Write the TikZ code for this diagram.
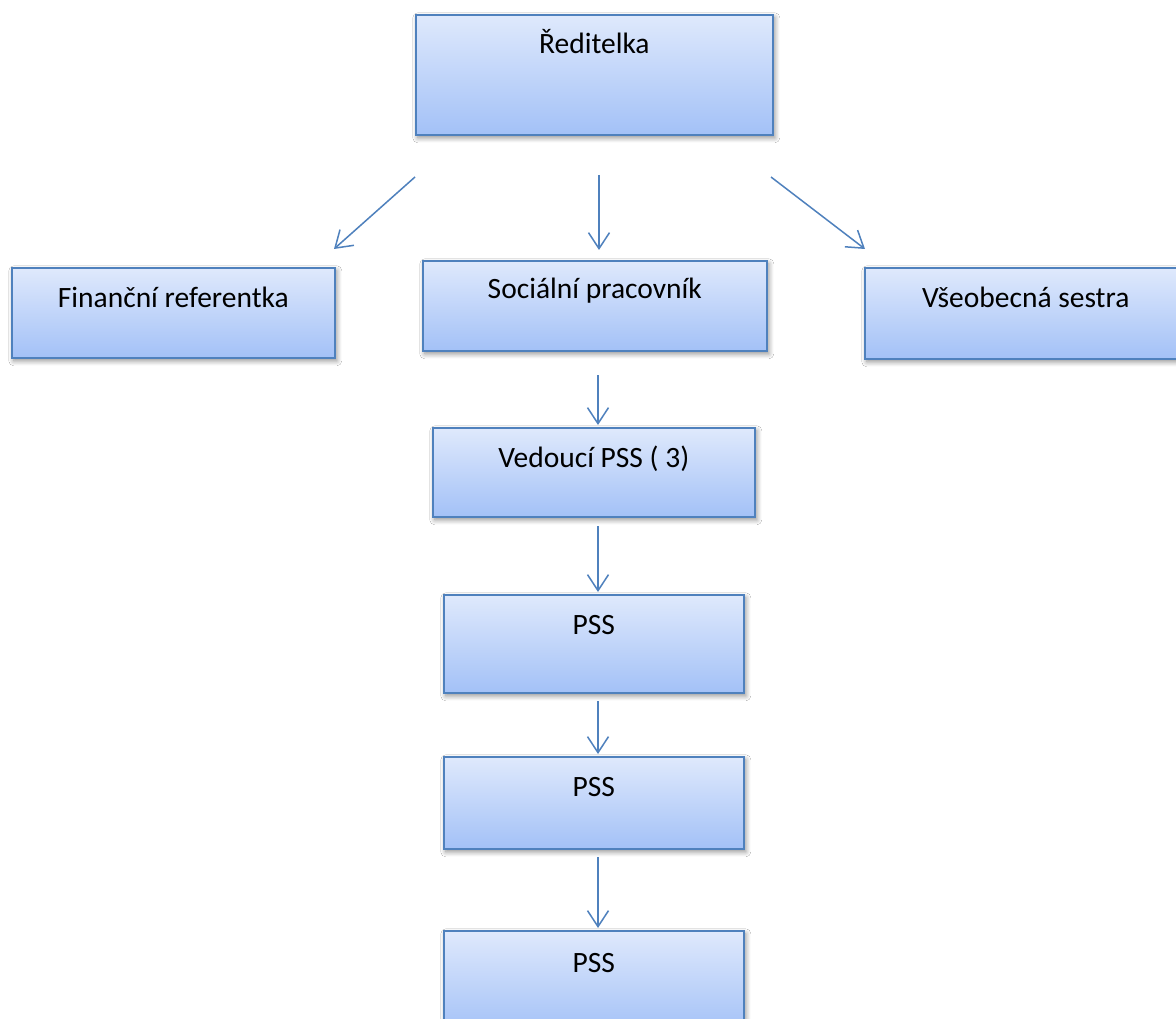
\documentclass[tikz,border=0pt]{standalone}
\usepackage{fontspec}
\setmainfont{Carlito}
\usetikzlibrary{arrows.meta,shadows.blur}
\definecolor{obord}{RGB}{79,129,189}
\definecolor{otop}{RGB}{223,233,252}
\definecolor{obot}{RGB}{163,193,247}
\tikzset{
  orgbox/.style={draw=obord, line width=1.6pt, top color=otop, bottom color=obot,
    anchor=north west, inner xsep=0pt, inner ysep=0pt, minimum height=0pt,
    font=\fontsize{29.5}{34}\selectfont, text=black,
    blur shadow={shadow xshift=2pt, shadow yshift=-3pt, shadow blur radius=5pt, shadow blur steps=8, shadow opacity=45}},
  orgarrow/.style={draw=obord, line width=1.5pt, -{Straight Barb[length=16pt,width=21pt,line width=1.5pt]}}
}
\begin{document}
\begin{tikzpicture}[x=1pt,y=-1pt]
\useasboundingbox (0,0) rectangle (1176,1019);
\clip (0,0) rectangle (1176,1019);
\fill[white] (0,0) rectangle (1176,1019);

\node[orgbox, minimum width=357pt, text height=39pt, text depth=81pt] (red) at (415,14) {Ředitelka};
\node[orgbox, minimum width=323pt, text height=40pt, text depth=50pt] (fin) at (11,267) {Finanční referentka};
\node[orgbox, minimum width=344pt, text height=38pt, text depth=52pt] (soc) at (422,260) {Sociální pracovník};
\node[orgbox, minimum width=322pt, text height=40pt, text depth=51pt] (vse) at (864,267) {Všeobecná sestra};
\node[orgbox, minimum width=322pt, text height=40pt, text depth=49pt] (ved) at (432,427) {Vedoucí PSS ( 3)};
\node[orgbox, minimum width=300pt, text height=40pt, text depth=58pt] (pss1) at (443,594) {PSS};
\node[orgbox, minimum width=300pt, text height=40pt, text depth=52pt] (pss2) at (443,756) {PSS};
\node[orgbox, minimum width=300pt, text height=42pt, text depth=60pt] (pss3) at (443,930) {PSS};

\coordinate (redfinA) at (415,177);
\coordinate (redfinB) at (334,249);
\coordinate (redsocA) at (599,175);
\coordinate (redsocB) at (599,250);
\coordinate (redvseA) at (771,177);
\coordinate (redvseB) at (865,249);
\coordinate (socvedA) at (598,375);
\coordinate (socvedB) at (598,425);
\coordinate (vedpssA) at (598,526);
\coordinate (vedpssB) at (598,592);
\coordinate (pss12A) at (598,701);
\coordinate (pss12B) at (598,754);
\coordinate (pss23A) at (598,857);
\coordinate (pss23B) at (598,928);

\draw[orgarrow] (redfinA) -- (redfinB);
\draw[orgarrow] (redsocA) -- (redsocB);
\draw[orgarrow] (redvseA) -- (redvseB);
\draw[orgarrow] (socvedA) -- (socvedB);
\draw[orgarrow] (vedpssA) -- (vedpssB);
\draw[orgarrow] (pss12A) -- (pss12B);
\draw[orgarrow] (pss23A) -- (pss23B);
\end{tikzpicture}
\end{document}
